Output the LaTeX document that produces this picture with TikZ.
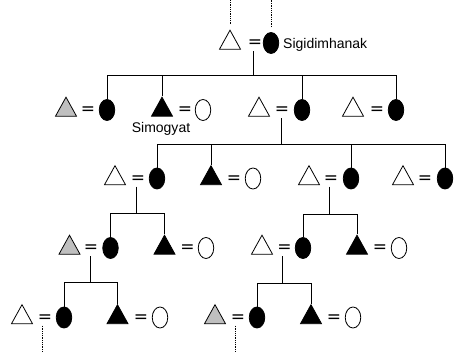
\documentclass[tikz,border=0pt]{standalone}
\usepackage{fontspec}
\setmainfont{Liberation Sans}
\newfontfamily\eqfont{DejaVu Sans}
\usepackage{tikz}
\usetikzlibrary{shapes.geometric}

\tikzstyle{man} = [isosceles triangle, isosceles triangle stretches, shape border rotate=90, minimum width=21pt, minimum height=19pt, inner sep=0pt, draw=black, line width=0.8pt, fill=white]
\tikzstyle{blackman} = [man, fill=black]
\tikzstyle{grayman} = [man, fill=black!25]
\tikzstyle{woman} = [ellipse, minimum width=15.5pt, minimum height=21pt, inner sep=0pt, draw=black, line width=0.8pt, fill=black]
\tikzstyle{whitewoman} = [woman, fill=white]
\tikzstyle{marriage} = [inner sep=0pt, minimum height=14pt, yshift=-1pt, font=\eqfont\fontsize{17}{17}\selectfont]
\tikzstyle{link} = [line width=0.8pt]
\tikzstyle{trace} = [line width=0.8pt, densely dotted]
\tikzstyle{nametext} = [inner sep=0pt, font=\fontsize{14}{14}\selectfont]

\begin{document}
\begin{tikzpicture}[x=1pt, y=-1pt]
\useasboundingbox (0,0) rectangle (454,352);

% Nodes
\node (h1) [man] at (230,43) {};
\node (e1) [marriage] at (255,43) {=};
\node (w1) [woman] at (271,43) {};
\node (sig) [nametext, anchor=west] at (283,44.5) {Sigidimhanak};

\node (h2) [grayman] at (66,110) {};
\node (e2) [marriage] at (88,110) {=};
\node (w2) [woman] at (107,110) {};
\node (h3) [blackman] at (162,110) {};
\node (e3) [marriage] at (185,110) {=};
\node (w3) [whitewoman] at (203,110) {};
\node (sim) [nametext] at (161,129) {Simogyat};
\node (h4) [man] at (259,110) {};
\node (e4) [marriage] at (282,110) {=};
\node (w4) [woman] at (302,110) {};
\node (h5) [man] at (353,110) {};
\node (e5) [marriage] at (377,110) {=};
\node (w5) [woman] at (396,110) {};

\node (h6) [man] at (115,178.5) {};
\node (e6) [marriage] at (138,178.5) {=};
\node (w6) [woman] at (157,178.5) {};
\node (h7) [blackman] at (211,178.5) {};
\node (e7) [marriage] at (234,178.5) {=};
\node (w7) [whitewoman] at (253,178.5) {};
\node (h8) [man] at (309,178.5) {};
\node (e8) [marriage] at (331,178.5) {=};
\node (w8) [woman] at (351,178.5) {};
\node (h9) [man] at (403,178.5) {};
\node (e9) [marriage] at (425,178.5) {=};
\node (w9) [woman] at (445,178.5) {};

\node (h10) [grayman] at (69.5,248) {};
\node (e10) [marriage] at (91,248) {=};
\node (w10) [woman] at (110.5,248) {};
\node (h11) [blackman] at (164.5,248) {};
\node (e11) [marriage] at (187.5,248) {=};
\node (w11) [whitewoman] at (206,248) {};
\node (h12) [man] at (262,248) {};
\node (e12) [marriage] at (284.5,248) {=};
\node (w12) [woman] at (303,248) {};
\node (h13) [blackman] at (357,248) {};
\node (e13) [marriage] at (380,248) {=};
\node (w13) [whitewoman] at (399,248) {};

\node (h14) [man] at (22,317.5) {};
\node (e14) [marriage] at (45,317.5) {=};
\node (w14) [woman] at (64,317.5) {};
\node (h15) [blackman] at (117.5,317.5) {};
\node (e15) [marriage] at (141,317.5) {=};
\node (w15) [whitewoman] at (160,317.5) {};
\node (h16) [grayman] at (215,317.5) {};
\node (e16) [marriage] at (238,317.5) {=};
\node (w16) [woman] at (257,317.5) {};
\node (h17) [blackman] at (311,317.5) {};
\node (e17) [marriage] at (334,317.5) {=};
\node (w17) [whitewoman] at (353,317.5) {};

% Sibling bars
\coordinate (top) at (0,0);
\coordinate (bottom) at (0,352);
\coordinate (bar1) at (0,75.7);
\coordinate (bar4) at (0,144);
\coordinate (bar6) at (0,213);
\coordinate (bar8) at (0,214);
\coordinate (bar10) at (0,282.5);
\coordinate (bar12) at (0,283);

% Lines
\draw [trace] ([yshift=5pt]h1.north) -- (h1.north |- top);
\draw [trace] ([yshift=5pt]w1.north) -- (w1.north |- top);

\draw [link] ([xshift=-2pt]e1.south) -- ([xshift=-2pt]e1.south |- bar1);
\draw [link] (w2.north) -- (w2.north |- bar1) -- (w5.north |- bar1) -- (w5.north);
\draw [link] (h3.north) -- (h3.north |- bar1);
\draw [link] (w4.north) -- (w4.north |- bar1);

\draw [link] ([xshift=-1pt]e4.south) -- ([xshift=-1pt]e4.south |- bar4);
\draw [link] (w6.north) -- (w6.north |- bar4) -- (w9.north |- bar4) -- (w9.north);
\draw [link] (h7.north) -- (h7.north |- bar4);
\draw [link] (w8.north) -- (w8.north |- bar4);

\draw [link] ([xshift=-1.5pt]e6.south) -- ([xshift=-1.5pt]e6.south |- bar6);
\draw [link] (w10.north) -- (w10.north |- bar6) -- (h11.north |- bar6) -- (h11.north);

\draw [link] ([xshift=-2pt]e8.south) -- ([xshift=-2pt]e8.south |- bar8);
\draw [link] (w12.north) -- (w12.north |- bar8) -- (h13.north |- bar8) -- (h13.north);

\draw [link] ([xshift=-1pt]e10.south) -- ([xshift=-1pt]e10.south |- bar10);
\draw [link] (w14.north) -- (w14.north |- bar10) -- (h15.north |- bar10) -- (h15.north);

\draw [link] ([xshift=-2pt]e12.south) -- ([xshift=-2pt]e12.south |- bar12);
\draw [link] (w16.north) -- (w16.north |- bar12) -- (h17.north |- bar12) -- (h17.north);

\draw [trace] ([xshift=-3pt]e14.south) -- ([xshift=-3pt]e14.south |- bottom);
\draw [trace] ([xshift=-3pt]e16.south) -- ([xshift=-3pt]e16.south |- bottom);

\end{tikzpicture}
\end{document}
